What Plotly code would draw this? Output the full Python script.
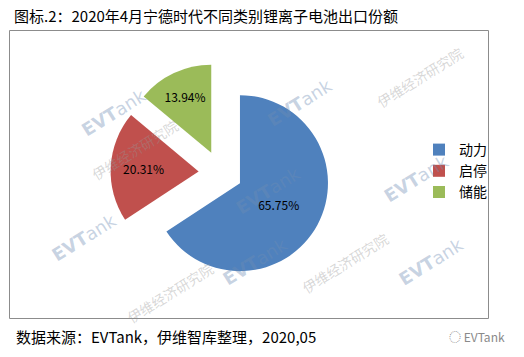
import plotly.graph_objects as go

categories = ["动力", "启停", "储能"]
shares = [65.75, 20.31, 13.94]
colors = ["#4F81BD", "#C0504D", "#9BBB59"]
title_text = "图标.2：2020年4月宁德时代不同类别锂离子电池出口份额"
source_text = "数据来源：EVTank，伊维智库整理，2020,05"

W, H = 524, 357
FONT = "Noto Sans CJK SC, Microsoft YaHei, sans-serif"

# pie box in pixels (center ~ (220.6,172.7), 220px square)
cx, cy, box = 220.6, 172.7, 220.0
dom_x = [(cx - box / 2) / W, (cx + box / 2) / W]
dom_y = [1 - (cy + box / 2) / H, 1 - (cy - box / 2) / H]

fig = go.Figure(go.Pie(
    labels=categories,
    values=shares,
    marker=dict(colors=colors, line=dict(width=0)),
    sort=False,
    direction="clockwise",
    rotation=0,
    pull=[0.25, 0.25, 0.25],
    texttemplate="%{value:.2f}%",
    textposition="inside",
    insidetextorientation="horizontal",
    textfont=dict(family=FONT, size=12, color="#000000"),
    domain=dict(x=dom_x, y=dom_y),
    hoverinfo="skip",
))

shapes = [dict(type="rect", xref="paper", yref="paper",
               x0=9.5 / W, x1=488.5 / W, y0=1 - 318.5 / H, y1=1 - 30.5 / H,
               line=dict(color="#8c8c8c", width=1), fillcolor="rgba(0,0,0,0)",
               layer="below")]

annotations = [
    dict(text=title_text, x=12 / W, y=1 - 16 / H, xref="paper", yref="paper",
         xanchor="left", yanchor="middle", showarrow=False,
         font=dict(family=FONT, size=15, color="#000000")),
    dict(text=source_text, x=14 / W, y=1 - 336 / H, xref="paper", yref="paper",
         xanchor="left", yanchor="middle", showarrow=False,
         font=dict(family=FONT, size=15, color="#000000")),
    dict(text="◌ EVTank", x=507 / W, y=1 - 336 / H, xref="paper", yref="paper",
         xanchor="right", yanchor="middle", showarrow=False,
         font=dict(family=FONT, size=12, color="#8a8a8a")),
]

# faint watermarks
wm_logo = [(75, 82), (300, 72), (268, 190), (455, 178), (45, 268), (255, 292), (470, 292)]
for (x, y) in wm_logo:
    annotations.append(dict(text="<b>EVT</b>ank", x=x / W, y=1 - y / H, xref="paper", yref="paper",
                            showarrow=False, textangle=-32,
                            font=dict(family="DejaVu Sans", size=18, color="rgba(110,140,180,0.38)")))
wm_text = [(85, 150), (470, 40), (345, 300), (120, 330)]
for (x, y) in wm_text:
    annotations.append(dict(text="伊维经济研究院", x=x / W, y=1 - y / H, xref="paper", yref="paper",
                            showarrow=False, textangle=-32,
                            font=dict(family="Noto Sans CJK SC", size=14, color="rgba(150,150,150,0.38)")))

fig.update_layout(
    width=W, height=H,
    margin=dict(l=0, r=0, t=0, b=0),
    paper_bgcolor="#ffffff",
    plot_bgcolor="#ffffff",
    showlegend=True,
    legend=dict(x=419 / W, y=1 - 134 / H, xanchor="left", yanchor="top",
                font=dict(family=FONT, size=14, color="#000000"),
                bgcolor="rgba(0,0,0,0)", itemclick=False),
    shapes=shapes,
    annotations=annotations,
)

fig.write_html("out.html")
